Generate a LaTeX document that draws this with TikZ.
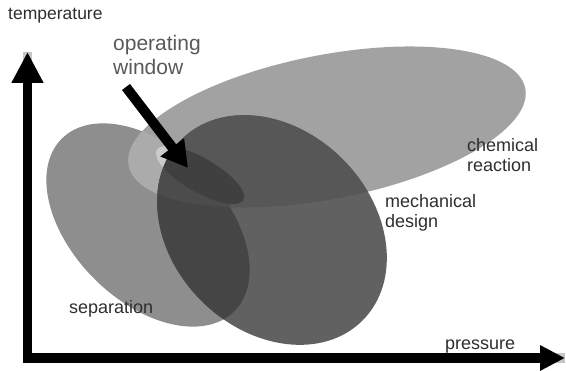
\documentclass[tikz,border=0pt]{standalone}
\usepackage{fontspec}
\setmainfont{Liberation Sans}
\usetikzlibrary{arrows.meta}

\definecolor{sepgray}{HTML}{8E8E8E}
\definecolor{chemgray}{HTML}{A2A2A2}
\definecolor{bothgray}{HTML}{ABABAB}
\definecolor{wingray}{HTML}{CBCBCB}
\definecolor{mechgray}{HTML}{616161}
\definecolor{mechchem}{HTML}{575757}
\definecolor{mechsep}{HTML}{454545}
\definecolor{mechall}{HTML}{4C4C4C}
\definecolor{mechwin}{HTML}{404040}
\definecolor{labeltext}{HTML}{2E2E2E}

\tikzset{
  chemrot/.style={rotate around={11:(327,244)}},
  seprot/.style={rotate around={-45:(148,146)}},
  mechrot/.style={rotate around={-45:(272,141)}},
  winrot/.style={rotate around={-30:(200,196)}},
  area label/.style={anchor=west, inner sep=0pt, align=left, text=labeltext,
    font=\fontsize{18}{20}\selectfont},
}

\begin{document}
\begin{tikzpicture}[x=1pt,y=1pt]
  \useasboundingbox (0,0) rectangle (566,371);

  % the four regions
  \fill[sepgray, seprot] (148,146) ellipse (122 and 76);
  \fill[chemgray, chemrot] (327,244) ellipse (202 and 72);
  \begin{scope}
    \clip[chemrot] (327,244) ellipse (202 and 72);
    \fill[bothgray, seprot] (148,146) ellipse (122 and 76);
    \fill[wingray, winrot] (200,196) ellipse (50 and 17);
  \end{scope}
  \fill[mechgray, mechrot] (272,141) ellipse (128 and 100);
  \begin{scope}
    \clip[mechrot] (272,141) ellipse (128 and 100);
    \fill[mechchem, chemrot] (327,244) ellipse (202 and 72);
    \fill[mechsep, seprot] (148,146) ellipse (122 and 76);
    \begin{scope}
      \clip[chemrot] (327,244) ellipse (202 and 72);
      \fill[mechall, seprot] (148,146) ellipse (122 and 76);
      \fill[mechwin, winrot] (200,196) ellipse (50 and 17);
    \end{scope}
  \end{scope}

  % axes
  \coordinate (origin) at (27.5,13);
  \coordinate (ttip) at (27.5,319);
  \coordinate (ptip) at (565,13);
  \draw[gray!45, line width=9.5pt, shift={(2,-2)}] (ttip) -- (origin) -- (ptip);
  \draw[line width=9.5pt,
    {Triangle[width=30pt,length=31pt]}-{Triangle[width=24pt,length=25pt]}]
    (ttip) -- (origin) -- (ptip);

  % labels
  \node[area label, font=\fontsize{17.5}{20}\selectfont] (temp) at (8,355) {temperature};
  \node[area label, anchor=south west] (press) at (445,18) {pressure};
  \node[area label, text=black!65, font=\fontsize{21}{24}\selectfont] (opwin) at (113,316)
    {operating\\window};
  \node[area label] (chem) at (467,216) {chemical\\reaction};
  \node[area label] (mech) at (385,158) {mechanical\\design};
  \node[area label] (sep) at (69,62) {separation};

  % pointer
  \coordinate (wstart) at (126,284);
  \coordinate (wtip) at (188,203);
  \draw[line width=10pt, -{Triangle[width=28pt,length=26pt]}] (wstart) -- (wtip);
\end{tikzpicture}
\end{document}
